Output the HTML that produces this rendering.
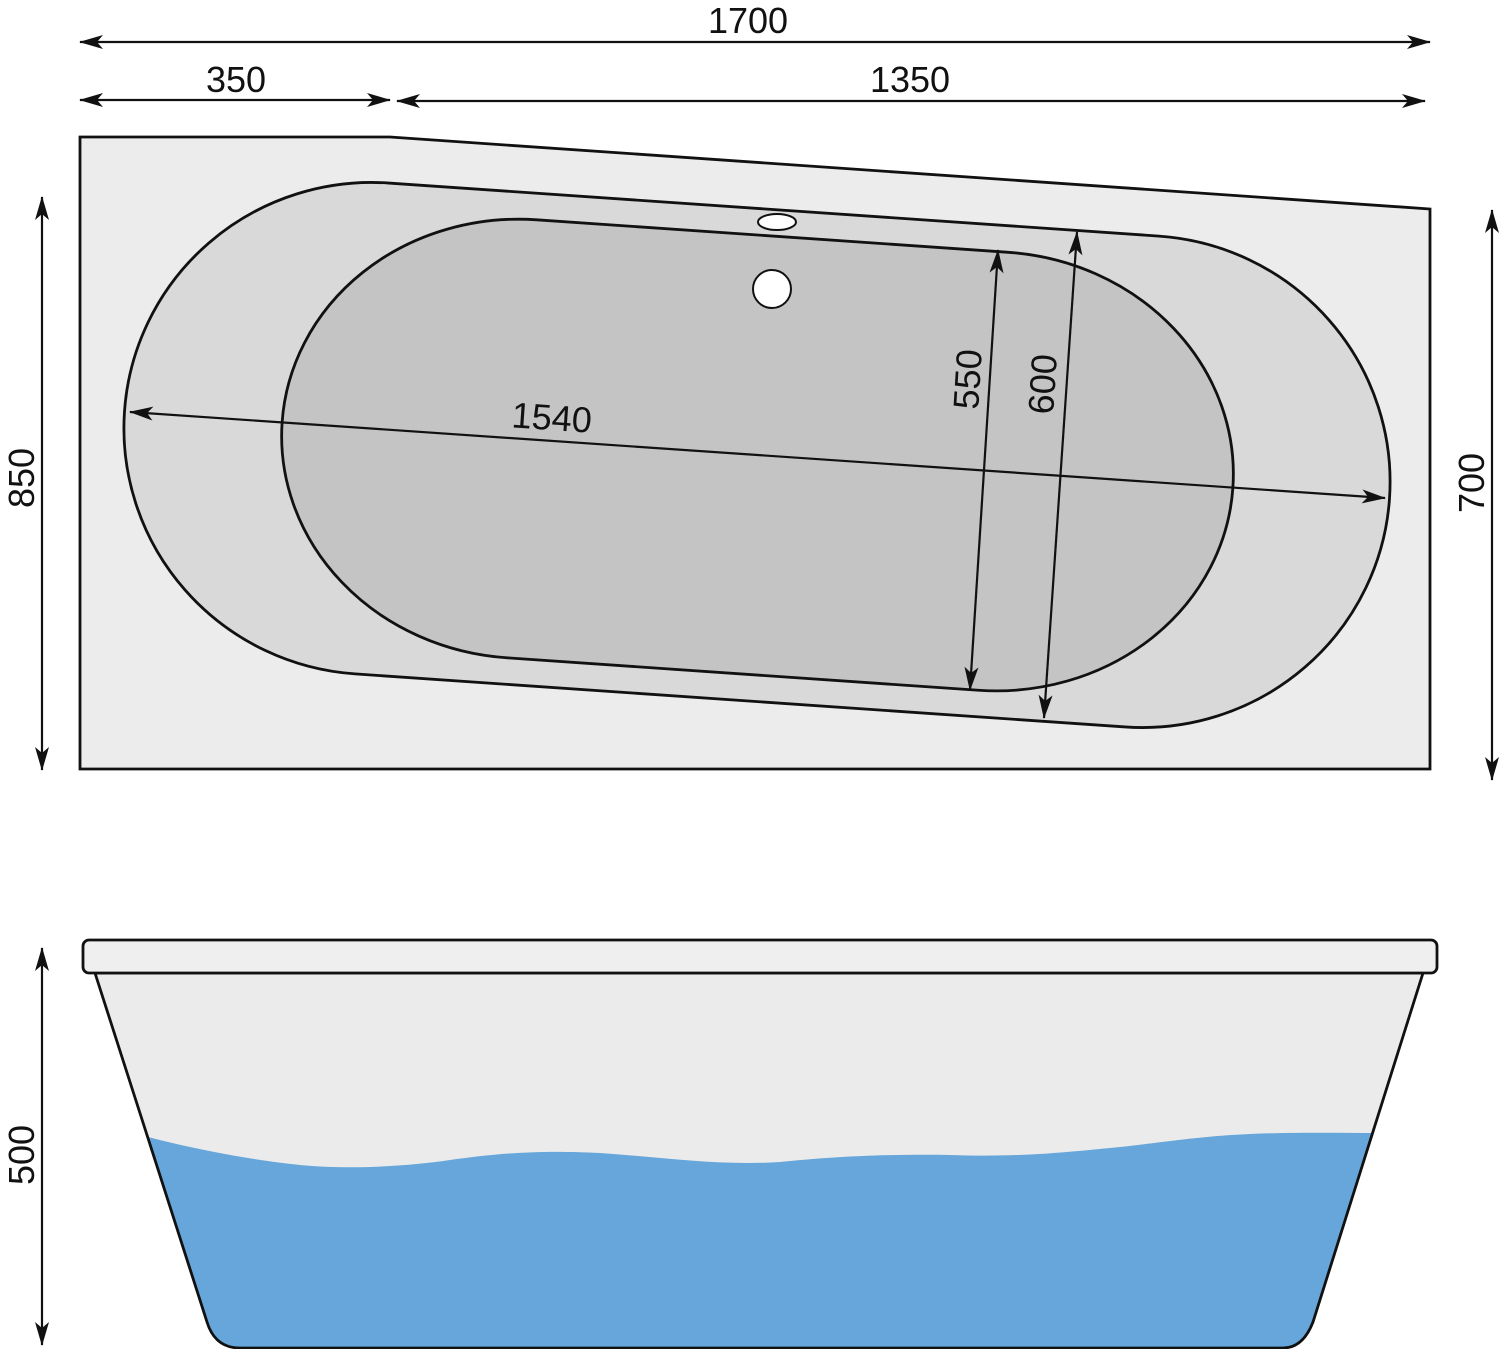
<!DOCTYPE html>
<html><head><meta charset="utf-8"><style>
html,body{margin:0;padding:0;background:#fff;}
svg{display:block;}
text{font-family:"Liberation Sans",sans-serif;font-size:36px;fill:#111;}
</style></head><body>
<svg width="1500" height="1349" viewBox="0 0 1500 1349" xmlns="http://www.w3.org/2000/svg">
<defs>
<marker id="a" viewBox="0 0 24 14" refX="23" refY="7" markerWidth="24" markerHeight="14" markerUnits="userSpaceOnUse" orient="auto-start-reverse">
<path d="M0,0 L24,7 L0,14 L6,7 Z" fill="#111"/>
</marker>
<clipPath id="body"><path d="M95,973 L1423,973 L1313,1322 Q1303,1348 1283,1348 L240,1348 Q215,1348 207,1322 Z"/></clipPath>
</defs>
<polygon points="80,137 390,137 1430,209 1430,769 80,769" fill="#ececec" stroke="#111" stroke-width="2.8"/>
<g transform="rotate(3.94 757 455)">
<rect x="123" y="209" width="1268" height="492" rx="248" ry="246" fill="#d9d9d9" stroke="#111" stroke-width="2.8"/>
<rect x="281" y="235.5" width="953" height="439" rx="240" ry="219.5" fill="#c4c4c4" stroke="#111" stroke-width="2.8"/>
</g>
<ellipse cx="777" cy="222" rx="19" ry="8" fill="#fff" stroke="#111" stroke-width="2"/>
<circle cx="772" cy="289" r="19" fill="#fff" stroke="#111" stroke-width="2"/>
<g stroke="#111" stroke-width="2.2" fill="none">
<line x1="80" y1="42" x2="1430" y2="42" marker-start="url(#a)" marker-end="url(#a)"/>
<line x1="80" y1="100" x2="390" y2="100" marker-start="url(#a)" marker-end="url(#a)"/>
<line x1="397" y1="101" x2="1425" y2="101" marker-start="url(#a)" marker-end="url(#a)"/>
<line x1="42" y1="197" x2="42" y2="770" marker-start="url(#a)" marker-end="url(#a)"/>
<line x1="1492" y1="210" x2="1492" y2="780" marker-start="url(#a)" marker-end="url(#a)"/>
<line x1="42" y1="948" x2="42" y2="1345" marker-start="url(#a)" marker-end="url(#a)"/>
<line x1="130" y1="412" x2="1385" y2="498" marker-start="url(#a)" marker-end="url(#a)"/>
<line x1="998" y1="250" x2="970" y2="690" marker-start="url(#a)" marker-end="url(#a)"/>
<line x1="1077" y1="232" x2="1044" y2="718" marker-start="url(#a)" marker-end="url(#a)"/>
</g>
<text x="748" y="33" text-anchor="middle">1700</text>
<text x="236" y="92" text-anchor="middle">350</text>
<text x="910" y="92" text-anchor="middle">1350</text>
<text transform="translate(34,478) rotate(-90)" text-anchor="middle">850</text>
<text transform="translate(1484,483) rotate(-90)" text-anchor="middle">700</text>
<text transform="translate(34,1155) rotate(-90)" text-anchor="middle">500</text>
<text transform="translate(551,430) rotate(3.94)" text-anchor="middle">1540</text>
<text transform="translate(980,380) rotate(-86.4)" text-anchor="middle">550</text>
<text transform="translate(1055,385) rotate(-86.1)" text-anchor="middle">600</text>
<path d="M95,973 L1423,973 L1313,1322 Q1303,1348 1283,1348 L240,1348 Q215,1348 207,1322 Z" fill="#ebebeb"/>
<path clip-path="url(#body)" fill="#66a6da" d="M100,1127 L148,1137 C190,1148 250,1160 300,1165 C350,1170 410,1166 450,1160 C500,1153 540,1150 600,1153 C660,1157 720,1166 780,1162 C830,1157 880,1154 950,1155 C1010,1157 1050,1154 1110,1148 C1160,1143 1200,1136 1250,1134 C1300,1132 1340,1133 1380,1133 L1430,1133 L1430,1360 L90,1360 Z"/>
<path d="M95,973 L1423,973 L1313,1322 Q1303,1348 1283,1348 L240,1348 Q215,1348 207,1322 Z" fill="none" stroke="#111" stroke-width="2.8"/>
<rect x="83" y="940" width="1354" height="33" rx="6" fill="#efefef" stroke="#111" stroke-width="2.8"/>
</svg>
</body></html>
